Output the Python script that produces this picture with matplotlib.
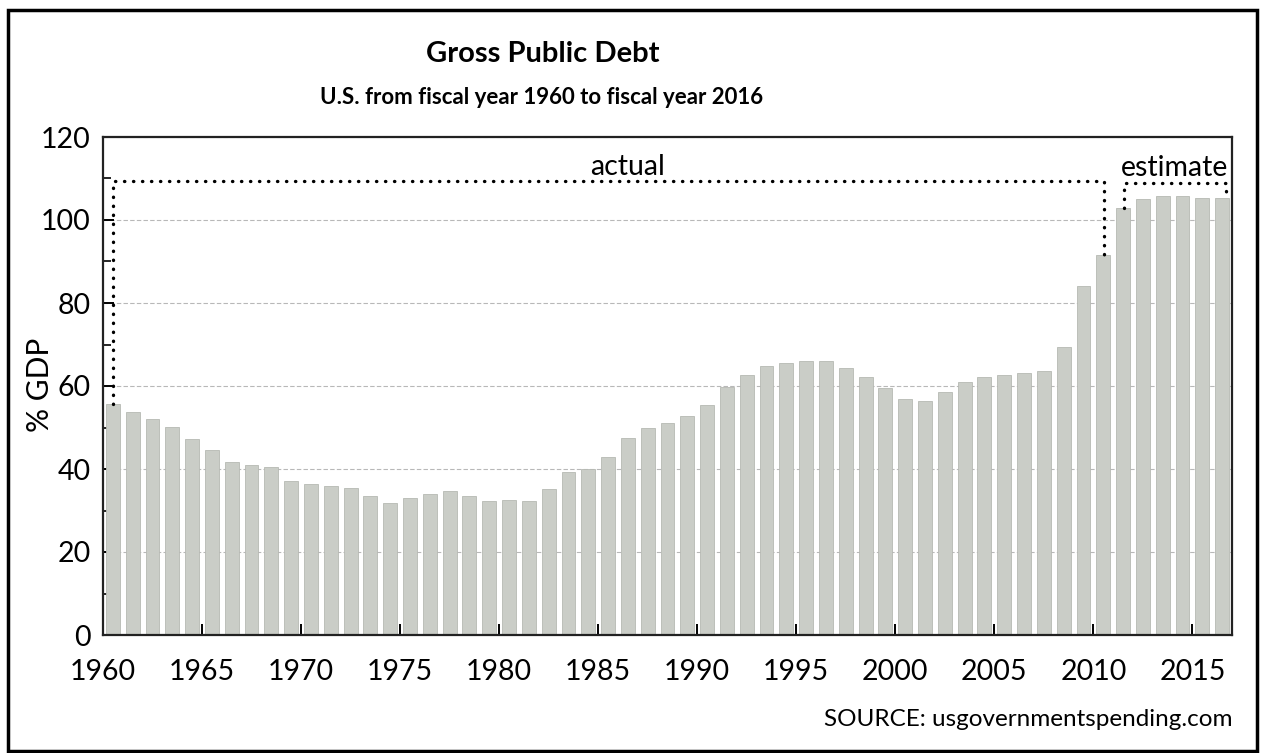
import matplotlib
matplotlib.use('Agg')
import matplotlib.pyplot as plt
from matplotlib.ticker import MultipleLocator
from matplotlib.patches import Rectangle

plt.rcParams['font.family'] = ['Lato', 'DejaVu Sans']

years = list(range(1960, 2017))
debt_pct_gdp = [55.6, 53.7, 52.0, 50.2, 47.3, 44.5, 41.7, 41.0, 40.6, 37.0,
                36.5, 35.8, 35.4, 33.5, 31.7, 32.9, 33.9, 34.6, 33.4, 32.3,
                32.5, 32.3, 35.2, 39.2, 40.0, 43.0, 47.5, 49.8, 51.0, 52.7,
                55.4, 59.7, 62.7, 64.9, 65.6, 66.1, 66.1, 64.4, 62.1, 59.6,
                56.9, 56.3, 58.5, 61.0, 62.2, 62.7, 63.2, 63.7, 69.4, 84.2,
                91.5, 103.0, 105.0, 105.9, 105.9, 105.3, 105.4]
x_tick_years = [1960, 1965, 1970, 1975, 1980, 1985, 1990, 1995, 2000, 2005, 2010, 2015]
y_ticks = [0, 20, 40, 60, 80, 100, 120]

title = "Gross Public Debt"
subtitle = "U.S. from fiscal year 1960 to fiscal year 2016"
source = "SOURCE: usgovernmentspending.com"

fig = plt.figure(figsize=(12.61, 7.53), dpi=100)
ax = fig.add_axes([103/1261, 1-635/753, (1232-103)/1261, (635-137)/753])

bar_x = [y + 0.5 for y in years]
ax.bar(bar_x, debt_pct_gdp, width=0.7, color='#cacdc7', edgecolor='#b6b9b3',
       linewidth=0.6, zorder=2)

ax.set_xlim(1960, 2017)
ax.set_ylim(0, 120)
ax.set_xticks(x_tick_years)
ax.set_yticks(y_ticks)
ax.yaxis.set_minor_locator(MultipleLocator(10))
ax.tick_params(axis='both', which='both', direction='in', colors='black', labelsize=20.5)
ax.tick_params(axis='x', which='major', length=8, width=1.4, pad=17)
ax.tick_params(axis='y', which='major', length=8, width=1.4, pad=9)
ax.tick_params(axis='y', which='minor', length=6, width=1.2)
ax.tick_params(axis='x', which='minor', length=0)
for sp in ax.spines.values():
    sp.set_linewidth(1.6)
    sp.set_color('#222222')

ax.grid(axis='y', which='major', color='#b8b8b8', linestyle=(0, (4, 2)), linewidth=0.8, zorder=1)

# annotation brackets
dot = dict(color='black', linestyle=(0, (0.1, 2.6)), linewidth=2.4, dash_capstyle='round',
           zorder=3, clip_on=False)
ax.plot([1960.5, 1960.5, 2010.55, 2010.55], [debt_pct_gdp[0], 109.5, 109.5, debt_pct_gdp[50]], **dot)
ax.plot([2011.55, 2011.55, 2016.7, 2016.7], [debt_pct_gdp[51], 108.8, 108.8, debt_pct_gdp[56]], **dot)
ax.text(1986.5, 112.8, "actual", ha='center', va='center', fontsize=20.5)
ax.text(2014.1, 112.6, "estimate", ha='center', va='center', fontsize=20.5)

fig.text(40/1261, 1-385/753, "% GDP", rotation=90, ha='center', va='center', fontsize=21.5)
fig.text(543/1261, 1-54/753, title, ha='center', va='center', fontsize=21, fontweight='bold')
fig.text(542/1261, 1-97/753, subtitle, ha='center', va='center', fontsize=16, fontweight='bold')
fig.text(1232/1261, 1-720/753, source, ha='right', va='center', fontsize=17.5)

fig.patches.append(Rectangle((8/1261, 1-751/753), (1257-8)/1261, (751-10)/753,
                             transform=fig.transFigure, fill=False, edgecolor='black',
                             linewidth=2.5))

fig.savefig('out.png', dpi=100)
